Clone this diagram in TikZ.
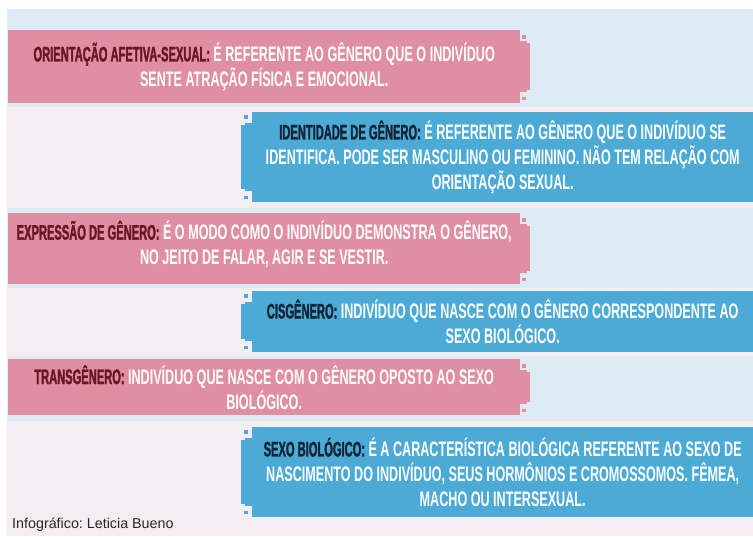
\documentclass[tikz,border=0pt]{standalone}
\usepackage{fontspec}
\setmainfont{Liberation Sans}
\newfontfamily\bodyfont{Liberation Sans}[FakeStretch=0.6]
\newfontfamily\labelfont{Liberation Sans}[FakeStretch=0.53,FakeBold=1.5]
\frenchspacing
\definecolor{pinkfill}{HTML}{DF8FA1}
\definecolor{bluefill}{HTML}{4BAAD6}
\definecolor{pinkdark}{HTML}{6B1626}
\definecolor{bluedark}{HTML}{152535}
\definecolor{bandblue}{HTML}{DCEBF4}
\definecolor{bandpink}{HTML}{F6EDF2}
\newcommand{\pinklabel}[1]{{\labelfont\color{pinkdark}#1}}
\newcommand{\bluelabel}[1]{{\labelfont\color{bluedark}#1}}
% small stepped tab on the right of a pink box
\newcommand{\pinknotch}[1]{%
  \fill[pinkfill] ([yshift=-11pt]#1.north east) rectangle ([xshift=7pt,yshift=11pt]#1.south east);
  \fill[pinkfill] ([xshift=7pt,yshift=-13pt]#1.north east) rectangle ([xshift=10pt,yshift=13pt]#1.south east);
  \fill[pinkfill] ([xshift=2pt,yshift=-5pt]#1.north east) rectangle +(4pt,-3.5pt);
  \fill[pinkfill] ([xshift=2pt,yshift=3pt]#1.south east) rectangle +(4pt,3.5pt);}
% same tab, on the left of a blue box
\newcommand{\bluenotch}[1]{%
  \fill[bluefill] ([yshift=-11pt]#1.north west) rectangle ([xshift=-7pt,yshift=11pt]#1.south west);
  \fill[bluefill] ([xshift=-7pt,yshift=-13pt]#1.north west) rectangle ([xshift=-11pt,yshift=13pt]#1.south west);
  \fill[bluefill] ([xshift=-4pt,yshift=-3pt]#1.north west) rectangle +(-4pt,-3.5pt);
  \fill[bluefill] ([xshift=-4pt,yshift=3pt]#1.south west) rectangle +(-4pt,3.5pt);}
\tikzset{
  infobox/.style={inner sep=0pt,align=center,text=white,anchor=north west,
    font=\bodyfont\bfseries\fontsize{21}{25}\selectfont},
  pinkbox/.style={infobox,fill=pinkfill,minimum width=512pt},
  bluebox/.style={infobox,fill=bluefill,minimum width=501pt},
  credit/.style={anchor=west,inner sep=0pt,text=black!85,font=\fontsize{14.3}{16}\selectfont}
}
\begin{document}
\begin{tikzpicture}[x=1pt,y=-1pt]
  \useasboundingbox (0,0) rectangle (753,536);
  \fill[white] (0,0) rectangle (753,536);
  % background bands
  \fill[bandblue] (7,9)   rectangle (753,107);
  \fill[bandpink] (7,107) rectangle (753,208);
  \fill[bandblue] (7,208) rectangle (753,288);
  \fill[bandpink] (7,288) rectangle (753,356);
  \fill[bandblue] (7,356) rectangle (753,421);
  \fill[bandpink] (7,421) rectangle (753,536);
  % boxes
  \node[pinkbox,minimum height=73pt] (orient) at (8,30)
    {\pinklabel{ORIENTAÇÃO AFETIVA-SEXUAL:} É REFERENTE AO GÊNERO QUE O INDIVÍDUO\\
     SENTE ATRAÇÃO FÍSICA E EMOCIONAL.};
  \node[bluebox,minimum height=90pt] (ident) at (252,112)
    {\bluelabel{IDENTIDADE DE GÊNERO:} É REFERENTE AO GÊNERO QUE O INDIVÍDUO SE\\
     IDENTIFICA. PODE SER MASCULINO OU FEMININO. NÃO TEM RELAÇÃO COM\\
     ORIENTAÇÃO SEXUAL.};
  \node[pinkbox,minimum height=71pt] (expr) at (8,213)
    {\pinklabel{EXPRESSÃO DE GÊNERO:} É O MODO COMO O INDIVÍDUO DEMONSTRA O GÊNERO,\\
     NO JEITO DE FALAR, AGIR E SE VESTIR.\\[-13pt]\mbox{}};
  \node[bluebox,minimum height=61pt] (cis) at (252,291)
    {\bluelabel{CISGÊNERO:} INDIVÍDUO QUE NASCE COM O GÊNERO CORRESPONDENTE AO\\
     SEXO BIOLÓGICO.};
  \node[pinkbox,minimum height=56pt] (trans) at (8,359)
    {\pinklabel{TRANSGÊNERO:} INDIVÍDUO QUE NASCE COM O GÊNERO OPOSTO AO SEXO\\
     BIOLÓGICO.};
  \node[bluebox,minimum height=90pt] (sexo) at (252,427)
    {\bluelabel{SEXO BIOLÓGICO:} É A CARACTERÍSTICA BIOLÓGICA REFERENTE AO SEXO DE\\
     NASCIMENTO DO INDIVÍDUO, SEUS HORMÔNIOS E CROMOSSOMOS. FÊMEA,\\
     MACHO OU INTERSEXUAL.};
  \pinknotch{orient}
  \pinknotch{expr}
  \pinknotch{trans}
  \bluenotch{ident}
  \bluenotch{cis}
  \bluenotch{sexo}
  \node[credit] (credito) at (12,525) {Infográfico: Leticia Bueno};
\end{tikzpicture}
\end{document}
